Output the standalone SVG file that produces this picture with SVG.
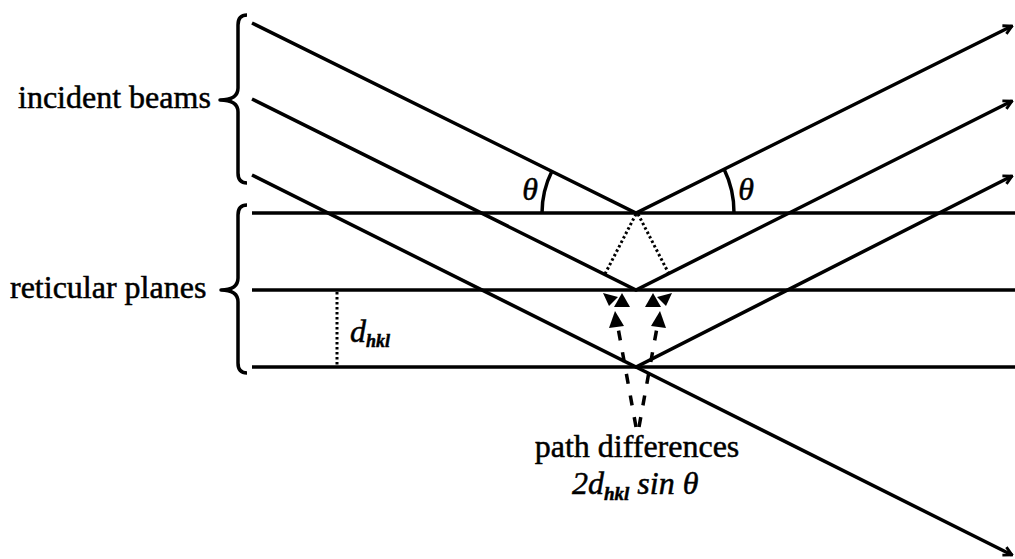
<svg xmlns="http://www.w3.org/2000/svg" width="1015" height="559" viewBox="0 0 1015 559">
<style>
.ln{stroke:#000;stroke-width:3.5;fill:none;stroke-linecap:butt}
.br{stroke:#000;stroke-width:3.5;fill:none;stroke-linejoin:round}
.dot{stroke:#000;stroke-width:3;fill:none;stroke-dasharray:2.5,2.5}
.dash{stroke:#000;stroke-width:3.5;fill:none;stroke-dasharray:10,12}
.t{font-size:32px;fill:#000;stroke:#000;stroke-width:0.5}
.it{font-style:italic}
.hd{fill:#000;stroke:none}
</style>
<defs>
<marker id="arr" viewBox="0 0 12 12" refX="10.5" refY="6" markerWidth="12" markerHeight="12" markerUnits="userSpaceOnUse" orient="auto">
<path d="M2,1.5 L10.5,6 L2,10.5" fill="none" stroke="#000" stroke-width="2.8"/>
</marker>
</defs>
<g id="planes">
<line class="ln" x1="252" y1="213" x2="1015" y2="213"/>
<line class="ln" x1="252" y1="290" x2="1015" y2="290"/>
<line class="ln" x1="252" y1="367" x2="1015" y2="367"/>
</g>
<g id="beams">
<polyline class="ln" points="252,23 636,213 1012,26" marker-end="url(#arr)"/>
<polyline class="ln" points="252,99 636,290 1012,101" marker-end="url(#arr)"/>
<polyline class="ln" points="252,175 636,367 1012,176" marker-end="url(#arr)"/>
<line class="ln" x1="636" y1="367" x2="1012" y2="555" marker-end="url(#arr)"/>
</g>
<g id="angles">
<path class="ln" d="M542,213 A94,94 0 0 1 552,171"/>
<path class="ln" d="M734,213 A98,98 0 0 0 724,169"/>
</g>
<g id="braces">
<path class="br" d="M247,15 Q238,15 238,25 L238,88 Q238,100 220,100 Q238,100 238,112 L238,173 Q238,183 247,183"/>
<path class="br" d="M247,205 Q238,205 238,215 L238,278 Q238,290 221,290 Q238,290 238,302 L238,363 Q238,373 247,373"/>
</g>
<g id="connectors">
<line class="dot" x1="636" y1="214" x2="605" y2="274"/>
<line class="dot" x1="638" y1="214" x2="669" y2="274"/>
<line class="dot" x1="337" y1="292" x2="337" y2="366"/>
<line class="dash" x1="636" y1="427" x2="617" y2="322"/>
<line class="dash" x1="639" y1="427" x2="658" y2="322"/>
<polygon class="hd" points="615,311 609,328 624,326"/>
<polygon class="hd" points="660,311 666,328 651,326"/>
<polygon class="hd" points="622,293 614,307 630,307"/>
<polygon class="hd" points="653,293 661,307 645,307"/>
<polygon class="hd" points="603,293 618,297 609,306"/>
<polygon class="hd" points="672,293 657,297 666,306"/>
</g>
<g id="labels" font-family="Liberation Serif, Times New Roman, DejaVu Serif, serif">
<text class="t" x="18" y="108">incident beams</text>
<text class="t" x="10" y="298">reticular planes</text>
<text class="t it" x="530" y="200" text-anchor="middle" font-size="31">θ</text>
<text class="t it" x="746" y="200" text-anchor="middle" font-size="31">θ</text>
<text class="t it" x="350" y="342" font-size="29">d<tspan font-size="18" font-weight="bold" dy="5">hkl</tspan></text>
<text class="t" x="637" y="457" text-anchor="middle">path differences</text>
<text class="t it" x="572" y="494">2d<tspan font-size="19" font-weight="bold" dy="6">hkl</tspan><tspan dy="-6"> sin θ</tspan></text>
</g>
</svg>
